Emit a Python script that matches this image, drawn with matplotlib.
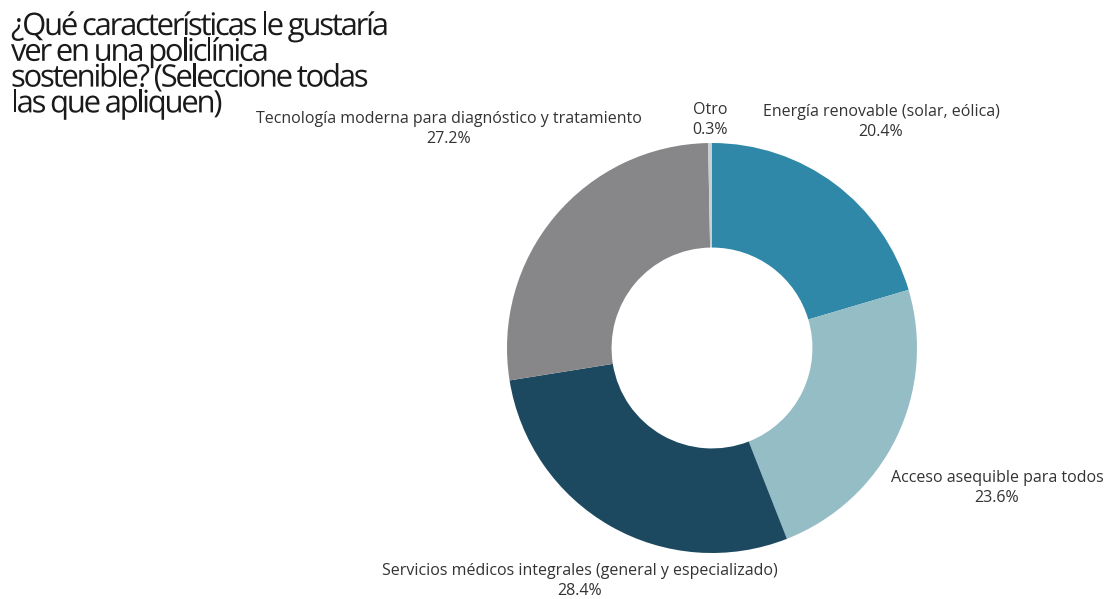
import matplotlib.pyplot as plt
from matplotlib.textpath import TextPath
from matplotlib.patches import PathPatch
from matplotlib.font_manager import FontProperties
from matplotlib.transforms import Affine2D

title_lines = ['¿Qué características le gustaría', 'ver en una policlínica',
               'sostenible? (Seleccione todas', 'las que apliquen)']
labels = ['Energía renovable (solar, eólica)', 'Acceso asequible para todos',
          'Servicios médicos integrales (general y especializado)',
          'Tecnología moderna para diagnóstico y tratamiento', 'Otro']
values = [20.4, 23.6, 28.4, 27.2, 0.3]
colors = ['#2f88a7', '#95bdc6', '#1c4960', '#878789', '#c8d0d6']

# label anchor points in figure pixels (from top-left)
label_pos = [(881, 122), (997, 488), (580, 581), (449, 129), (710, 120)]

W, H = 1107, 599
fig = plt.figure(figsize=(W / 100, H / 100), dpi=100)

cx, cy, r = 712, 348, 205
ax = fig.add_axes([(cx - r) / W, (H - cy - r) / H, 2 * r / W, 2 * r / H])
ax.pie(values, colors=colors, startangle=90, counterclock=False, radius=1,
       wedgeprops=dict(width=0.51, linewidth=0))
ax.set_xlim(-1, 1)
ax.set_ylim(-1, 1)
ax.set_aspect('equal')
ax.axis('off')

for lab, v, (px, py) in zip(labels, values, label_pos):
    fig.text(px / W, 1 - py / H, f'{lab}\n{v}%', ha='center', va='center',
             fontsize=11.5, family='Open Sans', color='#333333', linespacing=1.4)

# title with tight tracking, laid out glyph by glyph in pixel coords
tax = fig.add_axes([0, 0, 1, 1])
tax.set_xlim(0, W)
tax.set_ylim(0, H)
tax.axis('off')
size = 31
fp = FontProperties(family='Open Sans')


def ink_width(s):
    return TextPath((0, 0), s, size=size, prop=fp).get_extents().width


bars = ink_width('||')


def advance(ch):
    return ink_width('|' + ch + '|') - bars


track = 2.2
for i, line in enumerate(title_lines):
    x = 11
    base = H - 35 - 25.8 * i
    for ch in line:
        if ch != ' ':
            path = TextPath((0, 0), ch, size=size, prop=fp)
            tr = Affine2D().translate(x, base)
            tax.add_patch(PathPatch(tr.transform_path(path), facecolor='#1a1a1a',
                                    edgecolor='none'))
        x += advance(ch) - track

fig.savefig('out.png', dpi=100)
